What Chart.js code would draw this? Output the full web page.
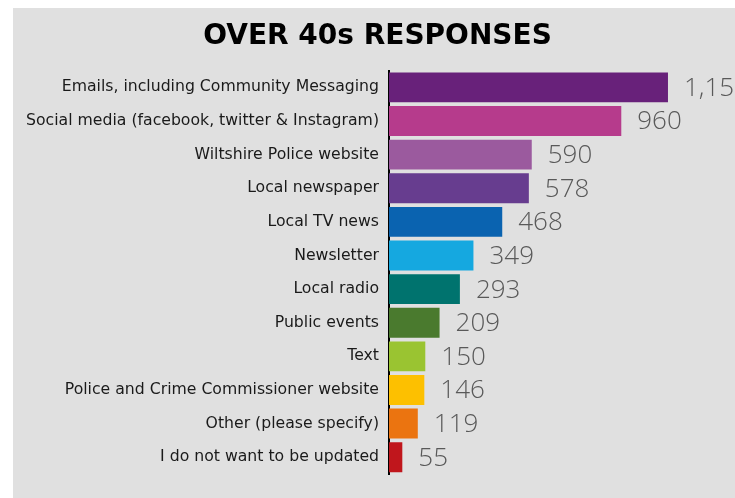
<!DOCTYPE html>
<html>
<head>
<meta charset="utf-8">
<script src="https://cdn.jsdelivr.net/npm/chart.js@4.4.1/dist/chart.umd.min.js"></script>
<style>
  html, body { margin: 0; padding: 0; background: #ffffff; }
  #wrap { width: 735px; height: 498px; position: relative; }
</style>
</head>
<body>
<div id="wrap"><canvas id="chart" width="735" height="498"></canvas></div>
<script>
const categories = [
  'Emails, including Community Messaging',
  'Social media (facebook, twitter & Instagram)',
  'Wiltshire Police website',
  'Local newspaper',
  'Local TV news',
  'Newsletter',
  'Local radio',
  'Public events',
  'Text',
  'Police and Crime Commissioner website',
  'Other (please specify)',
  'I do not want to be updated'
];
const responses = [1153, 960, 590, 578, 468, 349, 293, 209, 150, 146, 119, 55];
const barColors = [
  '#68217a', '#b63b8c', '#9b5a9e', '#673d8f', '#0a63b0', '#15a8e0',
  '#00736e', '#4a7a2e', '#9ac431', '#fdc000', '#eb7410', '#c0161c'
];

// grey panel behind everything
const panelBg = {
  id: 'panelBg',
  beforeDraw(chart) {
    const ctx = chart.ctx;
    ctx.save();
    ctx.fillStyle = '#e0e0e0';
    ctx.fillRect(13, 8, chart.width - 13, chart.height - 8);
    ctx.restore();
  }
};

// numbers at the end of each bar
const valueLabels = {
  id: 'valueLabels',
  afterDatasetsDraw(chart) {
    const ctx = chart.ctx;
    const meta = chart.getDatasetMeta(0);
    ctx.save();
    ctx.fillStyle = '#595959';
    ctx.font = '300 26px "Open Sans"';
    ctx.textAlign = 'left';
    ctx.textBaseline = 'middle';
    meta.data.forEach((bar, i) => {
      ctx.fillText(responses[i].toLocaleString('en-GB'), bar.x + 16, bar.y + 1);
    });
    ctx.restore();
  }
};

new Chart(document.getElementById('chart'), {
  type: 'bar',
  data: {
    labels: categories,
    datasets: [{
      data: responses,
      backgroundColor: barColors,
      borderWidth: 0,
      barPercentage: 0.89,
      categoryPercentage: 1
    }]
  },
  options: {
    indexAxis: 'y',
    responsive: false,
    animation: false,
    layout: { padding: { top: 0, right: 0, bottom: 24, left: 20 } },
    plugins: {
      legend: { display: false },
      tooltip: { enabled: false },
      title: {
        display: true,
        text: 'OVER 40s RESPONSES',
        color: '#000000',
        font: { family: '"DejaVu Sans"', size: 28, weight: 'bold', lineHeight: 1.2 },
        padding: { top: 20, bottom: 17 }
      }
    },
    scales: {
      x: {
        display: false,
        min: 0,
        max: 1430
      },
      y: {
        afterFit(scale) { scale.width = 369; },
        grid: { display: false },
        border: { display: true, color: '#000000', width: 2 },
        ticks: {
          color: '#1a1a1a',
          padding: 2,
          font: { family: '"DejaVu Sans"', size: 15.7 }
        }
      }
    }
  },
  plugins: [panelBg, valueLabels]
});
</script>
</body>
</html>
